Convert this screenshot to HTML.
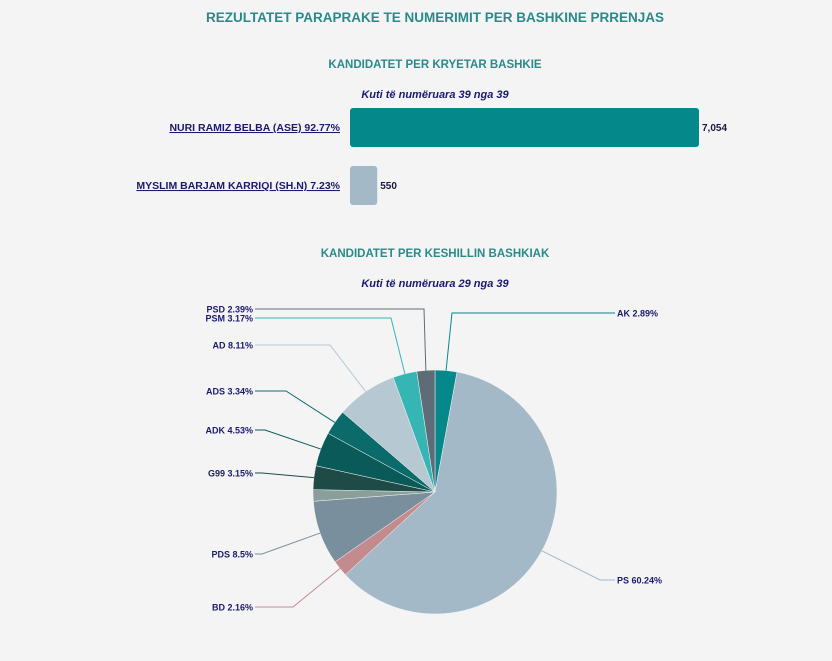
<!DOCTYPE html>
<html><head><meta charset="utf-8"><style>
body{margin:0;background:#f4f4f4;font-family:"Liberation Sans",sans-serif}
</style></head><body>
<svg width="832" height="661" xmlns="http://www.w3.org/2000/svg" style="display:block">
<text x="435" y="22" text-anchor="middle" font-size="13.5" font-weight="bold" fill="#2a8a8a">REZULTATET PARAPRAKE TE NUMERIMIT PER BASHKINE PRRENJAS</text>
<text x="435" y="68" text-anchor="middle" font-size="11.5" font-weight="bold" fill="#2a8a8a">KANDIDATET PER KRYETAR BASHKIE</text>
<text x="435" y="98" text-anchor="middle" font-size="11" font-weight="bold" font-style="italic" fill="#1a1a6e">Kuti të numëruara 39 nga 39</text>
<g id="bars"></g>
<text x="435" y="257" text-anchor="middle" font-size="11.5" font-weight="bold" fill="#2a8a8a">KANDIDATET PER KESHILLIN BASHKIAK</text>
<text x="435" y="287" text-anchor="middle" font-size="11" font-weight="bold" font-style="italic" fill="#1a1a6e">Kuti të numëruara 29 nga 39</text>
<g id="pie"></g>
</svg>
<script>
const barNames=["NURI RAMIZ BELBA (ASE) 92.77%","MYSLIM BARJAM KARRIQI (SH.N) 7.23%"];
const barValues=[7054,550];
const barColors=["#04888a","#a3b9c8"];
const pieNames=["AK","PS","BD","PDS","","G99","ADK","ADS","AD","PSM","PSD"];
const pieValues=[2.89,60.24,2.16,8.5,1.52,3.15,4.53,3.34,8.11,3.17,2.39];
const pieColors=["#04888a","#a3b9c8","#c48b8f","#7a8f9d","#8a9e9a","#1f4b47","#0a5a5a","#0b6b6b","#b6c8d2","#36b5b5","#5e6c78"];
const labelY=[313,580,607,554,null,473,430,391,345,318,309];
const elbowX=[452,600,293,262,null,262,265,286,330,391,424];
const NS="http://www.w3.org/2000/svg";
function mk(t,a,p){const e=document.createElementNS(NS,t);for(const k in a)e.setAttribute(k,a[k]);p.appendChild(e);return e;}
const bg=document.getElementById('bars');
const x0=350,maxV=7054,maxW=349;
const xs=v=>v/maxV*maxW;
barValues.forEach((v,i)=>{
 const y=108+i*58;
 const r=mk('rect',{x:x0,y:y,width:xs(v),height:39,rx:3,fill:barColors[i]},bg);
 
 
 const l=mk('text',{x:340,y:y+23,'text-anchor':'end','font-size':10.5,'font-weight':'bold',fill:'#1a1a6e','text-decoration':'underline'},bg);
 l.textContent=barNames[i];
 
 
 const t=mk('text',{x:x0+xs(v)+3,y:y+23,'font-size':10,'font-weight':'bold',fill:'#1a1a3e'},bg);
 t.textContent=v.toLocaleString('en-US');
 
 
});
const pg=document.getElementById('pie');
const cx=435,cy=492,R=122;
const tot=pieValues.reduce((a,b)=>a+b,0);
let a0=0;
const pt=(a,r)=>[cx+r*Math.sin(a),cy-r*Math.cos(a)];
pieValues.forEach((v,i)=>{
 const a1=a0+v/tot*2*Math.PI;
 const p0=pt(a0,R),p1=pt(a1,R);
 const s=mk('path',{d:`M${cx},${cy}L${p0[0]},${p0[1]}A${R},${R} 0 ${a1-a0>Math.PI?1:0} 1 ${p1[0]},${p1[1]}Z`,fill:pieColors[i],stroke:'#f4f4f4','stroke-width':0.5},pg);
 
 
 if(pieNames[i]){
  const am=(a0+a1)/2,e=pt(am,R),right=Math.sin(am)>0;
  const lx=right?615:255,ly=labelY[i];
  const ln=mk('polyline',{points:`${e[0]},${e[1]} ${elbowX[i]},${ly} ${lx},${ly}`,fill:'none',stroke:pieColors[i],'stroke-width':1},pg);
  
  
  const t=mk('text',{x:right?617:253,y:ly+3.5,'text-anchor':right?'start':'end','font-size':9,'font-weight':'bold',fill:'#1a1a6e'},pg);
  t.textContent=pieNames[i]+' '+v+'%';
  
  
 }
 a0=a1;
});
</script>
</body></html>
